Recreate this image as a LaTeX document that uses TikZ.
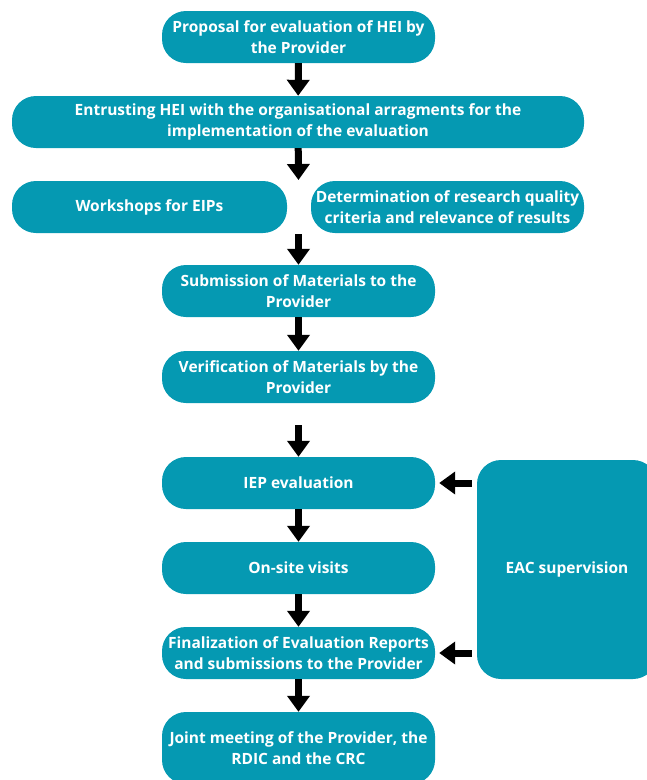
\documentclass[tikz,border=0pt]{standalone}
\usepackage{fontspec}
\setmainfont{Open Sans}
\usepackage{tikz}
\usetikzlibrary{arrows.meta}
\definecolor{boxteal}{HTML}{0599B2}

\begin{document}
\begin{tikzpicture}
[x=1pt, y=-1pt,
 box/.style={rectangle, rounded corners=24pt, fill=boxteal, text=white, inner sep=0pt,
   minimum width=273pt, minimum height=52pt, align=center,
   font=\fontsize{15.5}{21}\selectfont\bfseries},
 ->/.style={line width=7pt, arrows={-Triangle[width=22pt, length=16pt]}}]
\useasboundingbox (0,0) rectangle (646,780);
\node[box] (n1) at (298.5, 37) {Proposal for evaluation of HEI by\\the Provider};
\node[box, minimum width=572pt] (n2) at (298, 122) {Entrusting HEI with the organisational arragments for the\\implementation of the evaluation};
\node[box, minimum width=275pt] (n3) at (149.5, 207) {Workshops for EIPs};
\node[box] (n4) at (447.5, 207) {Determination of research quality\\criteria and relevance of results};
\node[box] (n5) at (298.5, 291) {Submission of Materials to the\\Provider};
\node[box] (n6) at (298.5, 377) {Verification of Materials by the\\Provider};
\node[box] (n7) at (298.5, 483) {IEP evaluation};
\node[box] (n8) at (298.5, 568) {On-site visits};
\node[box] (n9) at (298.5, 653) {Finalization of Evaluation Reports\\and submissions to the Provider};
\node[box, minimum height=72pt] (n10) at (298.5, 748) {Joint meeting of the Provider, the\\RDIC and the CRC};
\node[box, minimum width=180pt, minimum height=219pt] (n11) at (567, 569.5) {EAC supervision};
\coordinate (m1) at (298.5, 180);
\coordinate (m2) at (298.5, 234);
\draw[->] (n1) to (n2);
\draw[->] (n2) to (m1);
\draw[->] (m2) to (n5);
\draw[->] (n5) to (n6);
\draw[->, shorten <=22pt] (n6) to (n7);
\draw[->] (n7) to (n8);
\draw[->] (n8) to (n9);
\draw[->] (n9) to (n10);
\draw[->, shorten <=5pt, shorten >=4pt] (n11.west |- n7) to (n7.east);
\draw[->, shorten <=5pt, shorten >=4pt] (n11.west |- n9) to (n9.east);
\end{tikzpicture}
\end{document}
